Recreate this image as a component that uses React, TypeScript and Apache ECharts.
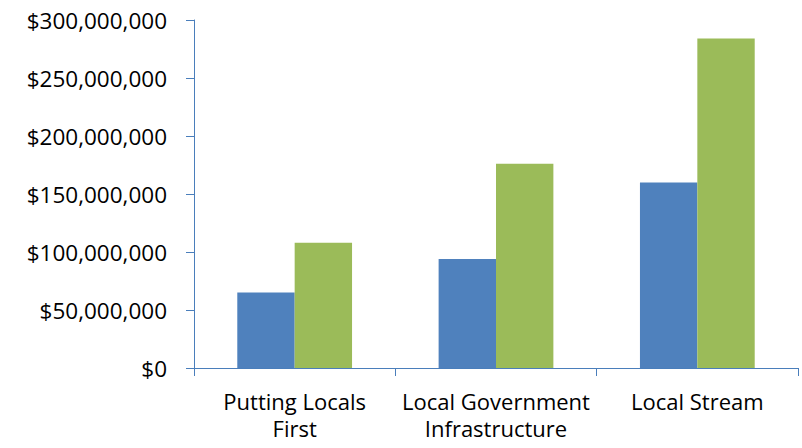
import React, { useEffect, useRef } from "react";
import * as echarts from "echarts";

const categories = ["Putting Locals\nFirst", "Local Government\nInfrastructure", "Local Stream"];
const seriesBlue = [65000000, 94000000, 160000000];
const seriesGreen = [108000000, 176000000, 284000000];
const yTicks = { min: 0, max: 300000000, interval: 50000000 };

const fmt = (v: number) => "$" + v.toLocaleString("en-US");

export default function App() {
  const ref = useRef<HTMLDivElement>(null);
  useEffect(() => {
    if (!ref.current) return;
    const chart = echarts.init(ref.current, undefined, { renderer: "svg" });
    const font = "'Open Sans', 'Noto Sans', sans-serif";
    chart.setOption({
      animation: false,
      textStyle: { fontFamily: font },
      grid: { left: 194, right: 4, top: 20, bottom: 80, containLabel: false },
      xAxis: {
        type: "category",
        data: categories,
        axisLine: { show: true, lineStyle: { color: "#4A7EBB", width: 1 } },
        axisTick: { show: true, length: 8, alignWithLabel: false, lineStyle: { color: "#4A7EBB" } },
        axisLabel: { color: "#000", fontSize: 22, fontFamily: font, margin: 19, lineHeight: 27, interval: 0 },
        splitLine: { show: false },
      },
      yAxis: {
        type: "value",
        min: yTicks.min,
        max: yTicks.max,
        interval: yTicks.interval,
        axisLine: { show: true, lineStyle: { color: "#4A7EBB", width: 1 } },
        axisTick: { show: true, length: 8, lineStyle: { color: "#4A7EBB" } },
        axisLabel: { color: "#000", fontSize: 22.5, fontFamily: font, margin: 27, formatter: (v: number) => fmt(v) },
        splitLine: { show: false },
      },
      series: [
        {
          type: "bar",
          data: seriesBlue,
          barWidth: "28.5%",
          barGap: "0%",
          itemStyle: { color: "#4F81BD" },
        },
        {
          type: "bar",
          data: seriesGreen,
          barWidth: "28.5%",
          barGap: "0%",
          itemStyle: { color: "#9BBB59" },
        },
      ],
    });
    return () => chart.dispose();
  }, []);
  return <div ref={ref} style={{ width: 802, height: 448, position: "absolute", left: 0, top: 0 }} />;
}
